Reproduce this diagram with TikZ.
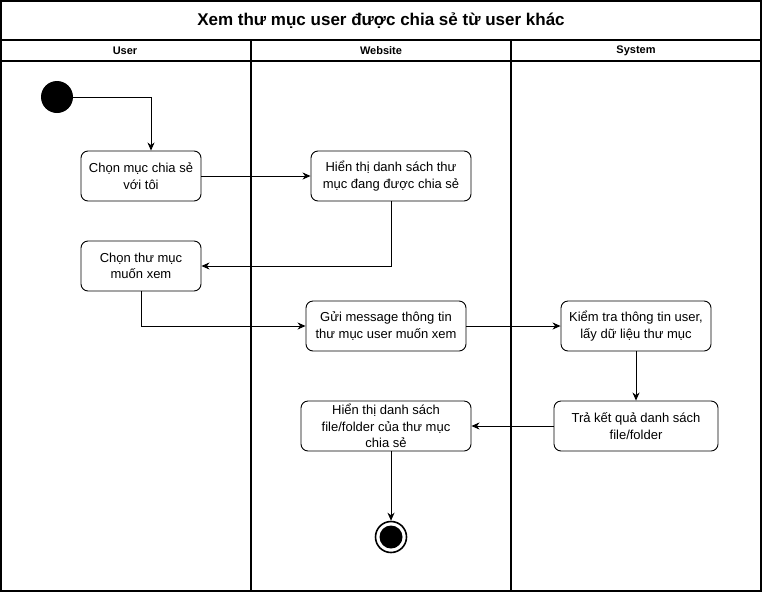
\documentclass[tikz,border=0pt]{standalone}
\usepackage{fontspec}
\setmainfont{Liberation Sans}
\usetikzlibrary{arrows.meta}
\begin{document}
\begin{tikzpicture}[x=1pt,y=-1pt,
  act/.style={draw, rounded corners=7pt, line width=0.9pt, minimum height=50pt,
    align=center, font=\fontsize{13}{16.5}\selectfont, inner sep=0pt},
  flow/.style={-{Stealth[length=8pt,width=7pt,inset=2.5pt]}, line width=0.9pt},
  lane/.style={line width=2pt},
  hdr/.style={font=\bfseries\fontsize{11}{13}\selectfont}]
\useasboundingbox (0,0) rectangle (762,592);
% frame and lanes
\draw[lane] (1,1) rectangle (761,591);
\draw[lane] (0,40) -- (762,40);
\draw[lane] (0,61) -- (762,61);
\draw[lane] (251,40) -- (251,592);
\draw[lane] (511,40) -- (511,592);
\node[font=\bfseries\fontsize{17}{19}\selectfont] (title) at (381,21) {Xem thư mục user được chia sẻ từ user khác};
\node[hdr] (h1) at (125,51) {User};
\node[hdr] (h2) at (381,51) {Website};
\node[hdr] (h3) at (636,51) {System};
% nodes
\node[circle, fill, minimum size=32pt, inner sep=0pt] (st) at (57,97) {};
\node[act, minimum width=120pt] (a) at (141,176) {Chọn mục chia sẻ\\với tôi};
\node[act, minimum width=160pt] (b) at (391,176) {Hiển thị danh sách thư\\mục đang được chia sẻ};
\node[act, minimum width=120pt] (c) at (141,266) {Chọn thư mục\\muốn xem};
\node[act, minimum width=160pt] (d) at (386,326) {Gửi message thông tin\\thư mục user muốn xem};
\node[act, minimum width=150pt] (e) at (636,326) {Kiểm tra thông tin user,\\lấy dữ liệu thư mục};
\node[act, minimum width=164pt] (f) at (636,426) {Trả kết quả danh sách\\file/folder};
\node[act, minimum width=170pt] (g) at (386,426) {Hiển thị danh sách\\file/folder của thư mục\\chia sẻ};
\node[circle, draw, line width=1.6pt, minimum size=31pt, inner sep=0pt] (en) at (391,537) {};
\fill (en.center) circle (11.5pt);
% connectors
\draw[flow] (st.east) -| ([xshift=10pt]a.north);
\draw[flow] (a.east) -- (b.west);
\draw[flow] (b.south) |- (c.east);
\draw[flow] (c.south) |- (d.west);
\draw[flow] (d.east) -- (e.west);
\draw[flow] (e.south) -- (f.north);
\draw[flow] (f.west) -- (g.east);
\draw[flow] ([xshift=5pt]g.south) -- (en.north);
\end{tikzpicture}
\end{document}
